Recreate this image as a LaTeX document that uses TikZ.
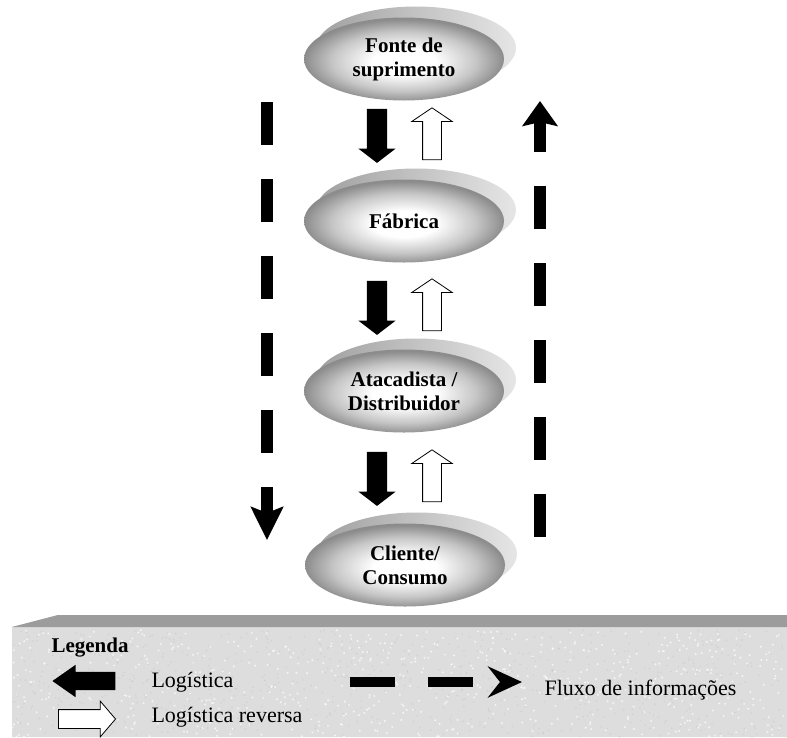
\documentclass[tikz,border=0pt]{standalone}
\usepackage{fontspec}
\setmainfont{Liberation Serif}
\usetikzlibrary{shapes.geometric, shapes.arrows, arrows.meta, shadows}

\pgfdeclareradialshading{plate}{\pgfpoint{0bp}{-2bp}}{color(0bp)=(white); color(8bp)=(white); color(18bp)=(gray!45); color(25bp)=(gray!90); color(50bp)=(gray!90)}

\tikzset{
    stage/.style={ellipse, minimum width=200pt, minimum height=83pt, inner sep=0pt,
        shading=plate, align=center, font=\fontsize{21}{24}\selectfont\bfseries,
        general shadow={shadow xshift=12pt, shadow yshift=11pt, left color=gray!75, right color=gray!20}},
    logarrow/.style={single arrow, fill=black, inner xsep=0pt, inner ysep=10pt, minimum width=37pt,
        minimum height=54pt, single arrow head extend=8.5pt, single arrow tip angle=105},
    revarrow/.style={single arrow, draw=black, fill=white, line width=0.8pt, inner xsep=0pt, inner ysep=9pt,
        minimum width=40pt, minimum height=52pt, single arrow head extend=11pt, single arrow tip angle=112},
    infoline/.style={line width=12pt, dash pattern=on 43pt off 34pt},
    legendtext/.style={anchor=west, font=\fontsize{22}{24}\selectfont}
}

\begin{document}
\begin{tikzpicture}[x=1pt, y=-1pt]
    \useasboundingbox (0,0) rectangle (787,737);

    % Legend panel
    \fill[gray!27] (12,627) -- (58,615) -- (787,615) -- (787,737) -- (12,737) -- cycle;
    \pgfmathsetseed{11}
    \foreach \i in {1,...,700} {
        \fill[white, opacity=0.7] ({12+775*rnd},{630+107*rnd}) circle (1.1pt);
        \fill[gray!45, opacity=0.5] ({12+775*rnd},{630+107*rnd}) circle (0.9pt);
    }
    \fill[gray!78] (12,627) -- (58,615) -- (787,615) -- (787,627) -- cycle;

    % Stages of the chain
    \node[stage] (fonte) at (404,59) {Fonte de\\suprimento};
    \node[stage] (fabrica) at (404,221) {Fábrica};
    \node[stage] (atacado) at (404,391) {Atacadista /\\Distribuidor};
    \node[stage] (cliente) at (405,565) {Cliente/\\Consumo};

    % Logistics arrows between stages
    \node[logarrow, rotate=-90] (flow1) at (377,132) {};
    \node[revarrow, rotate=90] (back1) at (432,137) {};
    \node[logarrow, rotate=-90] (flow2) at (377,304) {};
    \node[revarrow, rotate=90] (back2) at (432,308) {};
    \node[logarrow, rotate=-90] (flow3) at (377,475) {};
    \node[revarrow, rotate=90] (back3) at (432,479) {};

    % Information flow
    \coordinate (infoLtop) at (267,102);
    \coordinate (infoLbot) at (267,540);
    \coordinate (infoRbot) at (540,537);
    \coordinate (infoRtop) at (540,101);
    \draw[infoline, -{Stealth[length=33pt, width=32pt, inset=6pt]}] (infoLtop) -- (infoLbot);
    \draw[infoline, -{Stealth[length=25pt, width=35pt, inset=4pt]}] (infoRbot) -- (infoRtop);

    % Legend
    \node[anchor=west, font=\fontsize{21}{24}\selectfont\bfseries] (legenda) at (48,648) {Legenda};
    \node[single arrow, fill=black, inner xsep=0pt, inner ysep=9pt, minimum width=32pt, minimum height=63pt,
        single arrow head extend=7pt, single arrow tip angle=70, rotate=180] (keylog) at (90.5,681) {};
    \node[legendtext] (txtlog) at (148,682) {Logística};
    \node[single arrow, draw=black, fill=white, line width=0.8pt, inner xsep=0pt, inner ysep=9pt, minimum width=35pt,
        minimum height=57pt, single arrow head extend=8.5pt, single arrow tip angle=99] (keyrev) at (83,719) {};
    \node[legendtext] (txtrev) at (148,717) {Logística reversa};
    \coordinate (keyinfoA) at (350,682);
    \coordinate (keyinfoB) at (522,682);
    \draw[line width=10pt, dash pattern=on 45pt off 33pt,
        -{Stealth[length=34pt, width=31pt, inset=12pt]}] (keyinfoA) -- (keyinfoB);
    \node[legendtext] (txtinfo) at (541,690) {Fluxo de informações};
\end{tikzpicture}
\end{document}
